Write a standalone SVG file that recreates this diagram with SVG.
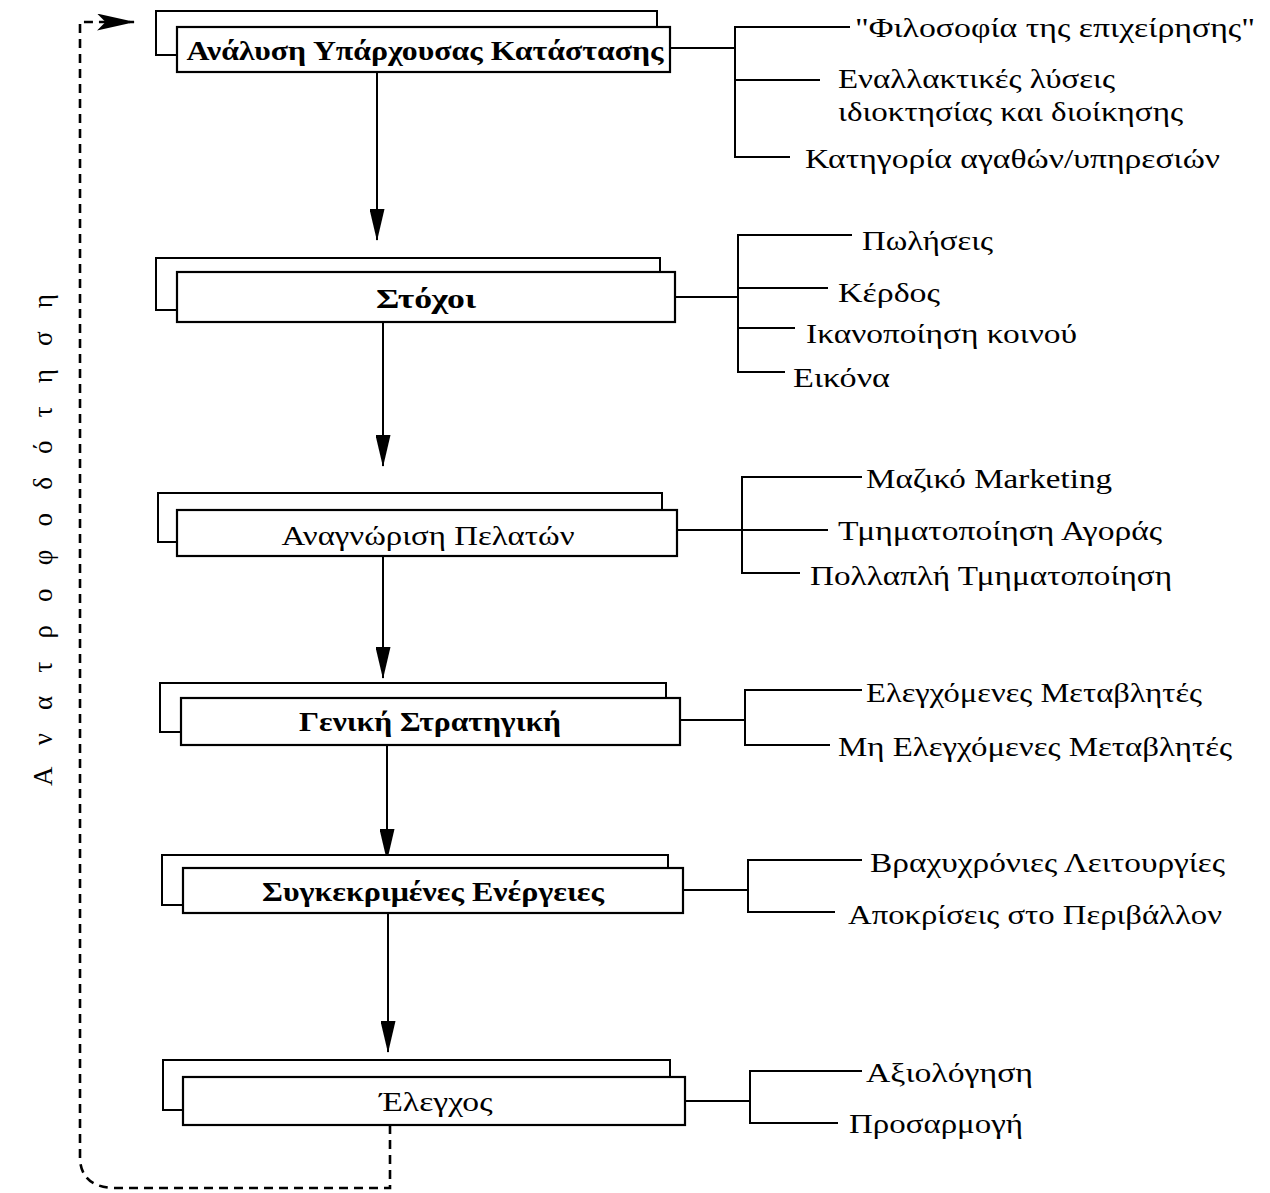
<svg xmlns="http://www.w3.org/2000/svg" width="1270" height="1193" viewBox="0 0 1270 1193">
<style>
.bk{fill:#fff;stroke:#000;stroke-width:2}
.fr{fill:#fff;stroke:#000;stroke-width:2.2}
.ln{stroke:#000;stroke-width:2;fill:none}
.dash{stroke:#000;stroke-width:2.6;fill:none;stroke-dasharray:9 6}
.t{font-family:"Liberation Serif","DejaVu Serif",serif;font-size:28px;fill:#000}
.nt{text-anchor:middle}
.b{font-weight:bold}
.vt{font-family:"Liberation Serif","DejaVu Serif",serif;font-size:27px;fill:#000}
</style>
<defs>
<marker id="ad" viewBox="0 0 34 16" refX="33" refY="8" markerWidth="32" markerHeight="15" markerUnits="userSpaceOnUse" orient="auto">
<path d="M0,0 L34,8 L0,16 z" fill="#000"/>
</marker>
<marker id="af" viewBox="0 0 36 16" refX="35" refY="8" markerWidth="38" markerHeight="17" markerUnits="userSpaceOnUse" orient="auto">
<path d="M0,0 L36,8 L0,16 L8,8 z" fill="#000"/>
</marker>
</defs>
<rect width="1270" height="1193" fill="#fff"/>

<g id="connectors">
<line class="ln" x1="377" y1="72" x2="377" y2="240" marker-end="url(#ad)"/>
<line class="ln" x1="383" y1="322" x2="383" y2="466" marker-end="url(#ad)"/>
<line class="ln" x1="383" y1="556" x2="383" y2="678" marker-end="url(#ad)"/>
<line class="ln" x1="387" y1="745" x2="387" y2="860" marker-end="url(#ad)"/>
<line class="ln" x1="388" y1="913" x2="388" y2="1052" marker-end="url(#ad)"/>
<path class="dash" d="M390,1125 V1188 H112 Q82,1186 80,1160 V22 H134" marker-end="url(#af)"/>
<path class="ln" d="M670,48 H735 M850,27 H735 V157 H790 M735,80 H820"/>
<path class="ln" d="M675,297 H738 M852,235 H738 V372 H785 M738,288 H828 M738,328 H795"/>
<path class="ln" d="M677,530 H742 M862,477 H742 V573 H800 M742,530 H828"/>
<path class="ln" d="M680,720 H745 M862,690 H745 V745 H830"/>
<path class="ln" d="M683,890 H748 M862,860 H748 V912 H835"/>
<path class="ln" d="M685,1101 H750 M862,1071 H750 V1123 H838"/>
</g>

<g id="feedback-label">
<text class="vt" transform="translate(52,786) rotate(-90)" x="0" y="0" textLength="492" lengthAdjust="spacing">Ανατροφοδότηση</text>
</g>

<g id="node1">
<rect class="bk" x="156" y="11" width="501" height="44"/>
<rect class="fr" x="177" y="27" width="493" height="45"/>
<text class="t nt b" x="425" y="60" textLength="477" lengthAdjust="spacingAndGlyphs">Ανάλυση Υπάρχουσας Κατάστασης</text>
</g>
<g id="node1-items">
<text class="t" x="855" y="37" textLength="400" lengthAdjust="spacingAndGlyphs">"Φιλοσοφία  της επιχείρησης"</text>
<text class="t" x="838" y="88" textLength="277" lengthAdjust="spacingAndGlyphs">Εναλλακτικές λύσεις</text>
<text class="t" x="838" y="121" textLength="345" lengthAdjust="spacingAndGlyphs">ιδιοκτησίας και διοίκησης</text>
<text class="t" x="805" y="168" textLength="415" lengthAdjust="spacingAndGlyphs">Κατηγορία  αγαθών/υπηρεσιών</text>
</g>

<g id="node2">
<rect class="bk" x="156" y="258" width="504" height="52"/>
<rect class="fr" x="177" y="272" width="498" height="50"/>
<text class="t nt b" x="426" y="308" textLength="100" lengthAdjust="spacingAndGlyphs">Στόχοι</text>
</g>
<g id="node2-items">
<text class="t" x="862" y="250" textLength="131" lengthAdjust="spacingAndGlyphs">Πωλήσεις</text>
<text class="t" x="838" y="302" textLength="102" lengthAdjust="spacingAndGlyphs">Κέρδος</text>
<text class="t" x="806" y="343" textLength="271" lengthAdjust="spacingAndGlyphs">Ικανοποίηση κοινού</text>
<text class="t" x="793" y="387" textLength="97" lengthAdjust="spacingAndGlyphs">Εικόνα</text>
</g>

<g id="node3">
<rect class="bk" x="158" y="493" width="504" height="49"/>
<rect class="fr" x="177" y="510" width="500" height="46"/>
<text class="t nt" x="428" y="545" textLength="293" lengthAdjust="spacingAndGlyphs">Αναγνώριση Πελατών</text>
</g>
<g id="node3-items">
<text class="t" x="866" y="488" textLength="246" lengthAdjust="spacingAndGlyphs">Μαζικό Marketing</text>
<text class="t" x="838" y="540" textLength="324" lengthAdjust="spacingAndGlyphs">Τμηματοποίηση Αγοράς</text>
<text class="t" x="810" y="585" textLength="362" lengthAdjust="spacingAndGlyphs">Πολλαπλή Τμηματοποίηση</text>
</g>

<g id="node4">
<rect class="bk" x="160" y="683" width="506" height="49"/>
<rect class="fr" x="181" y="698" width="499" height="47"/>
<text class="t nt b" x="430" y="731" textLength="262" lengthAdjust="spacingAndGlyphs">Γενική Στρατηγική</text>
</g>
<g id="node4-items">
<text class="t" x="866" y="702" textLength="336" lengthAdjust="spacingAndGlyphs">Ελεγχόμενες Μεταβλητές</text>
<text class="t" x="838" y="756" textLength="394" lengthAdjust="spacingAndGlyphs">Μη Ελεγχόμενες Μεταβλητές</text>
</g>

<g id="node5">
<rect class="bk" x="162" y="855" width="506" height="50"/>
<rect class="fr" x="183" y="868" width="500" height="45"/>
<text class="t nt b" x="433" y="901" textLength="342" lengthAdjust="spacingAndGlyphs">Συγκεκριμένες Ενέργειες</text>
</g>
<g id="node5-items">
<text class="t" x="870" y="872" textLength="355" lengthAdjust="spacingAndGlyphs">Βραχυχρόνιες Λειτουργίες</text>
<text class="t" x="848" y="924" textLength="374" lengthAdjust="spacingAndGlyphs">Αποκρίσεις στο Περιβάλλον</text>
</g>

<g id="node6">
<rect class="bk" x="163" y="1060" width="507" height="50"/>
<rect class="fr" x="183" y="1077" width="502" height="48"/>
<text class="t nt" x="436" y="1111" textLength="113" lengthAdjust="spacingAndGlyphs">Έλεγχος</text>
</g>
<g id="node6-items">
<text class="t" x="866" y="1082" textLength="167" lengthAdjust="spacingAndGlyphs">Αξιολόγηση</text>
<text class="t" x="849" y="1133" textLength="174" lengthAdjust="spacingAndGlyphs">Προσαρμογή</text>
</g>
</svg>
